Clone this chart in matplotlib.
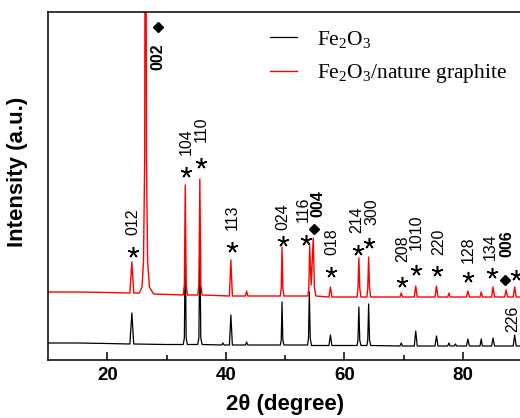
"""XRD patterns of Fe2O3 and Fe2O3/nature graphite."""

import matplotlib

matplotlib.use("Agg")
import matplotlib.pyplot as plt

# pattern, intensity in arbitrary units
fe2o3_2theta = [
    10, 15, 20, 23.8, 24.14, 24.45,
    30, 32.8, 33.0, 33.15, 33.3, 33.5,
    35.25, 35.45, 35.61, 35.77, 36.0,
    39.3, 39.5, 39.7, 40.6, 40.85, 41.1, 43.3, 43.5, 43.7,
    49.2, 49.35, 49.48, 49.62, 49.8,
    53.8, 53.95, 54.09, 54.24, 54.45,
    57.4, 57.65, 57.9,
    62.15, 62.3, 62.45, 62.6, 62.8,
    63.8, 63.95, 64.1, 64.25, 64.45,
    69.4, 69.6, 69.8, 71.8, 72.05, 72.3, 75.3, 75.55, 75.8,
    77.45, 77.65, 77.85, 78.55, 78.75, 78.95,
    80.6, 80.85, 81.1, 82.9, 83.1, 83.3, 84.85, 85.1, 85.35,
    88.5, 88.75, 89.0, 90,
]
fe2o3_counts = [
    17, 17, 16.5, 16, 47, 16,
    15.5, 15.5, 22, 120, 22, 15.5,
    15.5, 22, 122, 22, 15.5,
    15, 17, 15, 15, 45, 15, 15, 18, 15,
    15, 20, 58, 20, 15,
    15, 22, 68, 22, 14.5,
    14.5, 25, 14.5,
    14.5, 20, 53, 20, 14.5,
    14.5, 20, 56, 20, 14.5,
    14, 17, 14, 14, 29, 14, 14, 24, 14,
    14, 17, 14, 14, 16, 14,
    14, 21, 14, 14, 21, 14, 14, 22, 14,
    14, 25, 14, 14,
]

composite_2theta = [
    10, 15, 20, 23.8, 24.14, 24.45,
    25.4, 25.85, 26.1, 26.3, 26.45, 26.6, 26.8, 27.1, 27.8,
    32.8, 33.0, 33.15, 33.3, 33.5,
    35.25, 35.45, 35.61, 35.77, 36.0,
    40.6, 40.85, 41.1, 43.3, 43.5, 43.7,
    49.2, 49.35, 49.48, 49.62, 49.8,
    53.85, 54.0, 54.15, 54.4, 54.75, 54.95, 55.2,
    57.4, 57.65, 57.9,
    62.15, 62.3, 62.45, 62.6, 62.8,
    63.8, 63.95, 64.1, 64.25, 64.45,
    69.4, 69.6, 69.8, 71.8, 72.05, 72.3, 75.3, 75.55, 75.8,
    77.45, 77.65, 77.85, 80.6, 80.85, 81.1, 82.9, 83.1, 83.3,
    84.85, 85.1, 85.35, 87.05, 87.3, 87.55, 88.5, 88.75, 89.0, 90,
]
composite_counts = [
    68, 68, 67.5, 67, 98, 67,
    67, 73, 98, 200, 700, 200, 98, 73, 66,
    65, 75, 175, 75, 65,
    65, 75, 181, 75, 65,
    64, 100, 64, 64, 69, 64,
    64, 72, 113, 72, 64,
    64, 72, 114, 75, 122, 72, 64,
    63, 73, 63,
    63, 72, 102, 72, 63,
    63, 72, 103, 72, 63,
    63, 67, 63, 63, 74, 63, 63, 74, 63,
    63, 67, 63, 63, 69, 63, 63, 68, 63,
    63, 73, 63, 63, 70, 63, 63, 73, 63, 63,
]

# hematite reflections: label, star position, label bottom
hkl_labels = ["012", "104", "110", "113", "024", "116", "018", "214",
              "300", "208", "1010", "220", "128", "134", ""]
star_2theta = [24.3, 33.23, 35.8, 41.0, 49.66, 53.5, 57.7, 62.37,
               64.23, 69.75, 72.1, 75.65, 80.95, 84.9, 89.0]
star_y = [108, 188, 197, 113, 119, 120, 88, 110,
          117, 78, 90, 89, 83, 87, 85]
label_2theta = [24.33, 33.35, 35.85, 41.05, 49.6, 53.1, 57.9, 62.1,
                64.6, 69.8, 72.2, 76.0, 80.95, 84.55, 0]
label_y = [125, 205, 218, 130, 130, 138, 105, 127,
           135, 98, 110, 105, 97, 100, 0]

# graphite reflections
graphite_labels = ["002", "004", "006"]
diamond_2theta = [28.56, 54.9, 87.14]
diamond_y = [333, 131, 80]
graphite_label_2theta = [28.56, 55.6, 87.4]
graphite_label_y = [290, 143, 103]

plt.rcParams["font.family"] = ["Liberation Sans", "DejaVu Sans"]
plt.rcParams["mathtext.fontset"] = "custom"
plt.rcParams["mathtext.rm"] = "Liberation Serif"
plt.rcParams["mathtext.it"] = "Liberation Serif:italic"

fig = plt.figure(figsize=(5.2, 4.18), dpi=100)
ax = fig.add_axes([48.1 / 520, 58 / 418, 474 / 520, 348 / 418])

ax.plot(fe2o3_2theta, fe2o3_counts, color="black", lw=0.9, label="Fe$_2$O$_3$")
ax.plot(composite_2theta, composite_counts, color="#ff0000", lw=1.0,
        label="Fe$_2$O$_3$/nature graphite")

ax.plot(star_2theta, star_y, ls="none", marker=(5, 2, 0), ms=8,
        mec="black", mew=1.1)
for text, x, y in zip(hkl_labels, label_2theta, label_y):
    if text:
        ax.text(x, y, text, rotation=90, ha="center", va="bottom", fontsize=11.5)
ax.text(88.5, 28, "226", rotation=90, ha="center", va="bottom", fontsize=11.5)

ax.plot(diamond_2theta, diamond_y, ls="none", marker="D", ms=5.5, color="black")
for text, x, y in zip(graphite_labels, graphite_label_2theta, graphite_label_y):
    ax.text(x, y, text, rotation=90, ha="center", va="bottom", fontsize=11.5,
            fontweight="bold")

ax.set_xlim(10, 90)
ax.set_ylim(0, 348)
ax.set_xticks([20, 40, 60, 80])
ax.set_xticks([30, 50, 70, 90], minor=True)
ax.set_yticks([])
ax.tick_params(axis="x", which="major", direction="in", length=6, width=1.1,
               pad=5, labelsize=13.5)
ax.tick_params(axis="x", which="minor", direction="in", length=3.6, width=1.1)
for label in ax.get_xticklabels():
    label.set_fontweight("bold")
for spine in ax.spines.values():
    spine.set_linewidth(1.1)

ax.set_xlabel("2\u03b8 (degree)", fontsize=16, fontweight="bold", labelpad=7)
ax.set_ylabel("Intensity (a.u.)", fontsize=16, fontweight="bold")
ax.yaxis.set_label_coords(-0.042, 0.54)

ax.legend(loc="upper left", bbox_to_anchor=(0.468, 0.952), frameon=False,
          prop={"family": "Liberation Serif", "size": 15.5}, handlelength=1.25,
          handletextpad=0.93, labelspacing=0.58, borderpad=0, borderaxespad=0)

fig.savefig("out.png", dpi=100)
plt.close(fig)
